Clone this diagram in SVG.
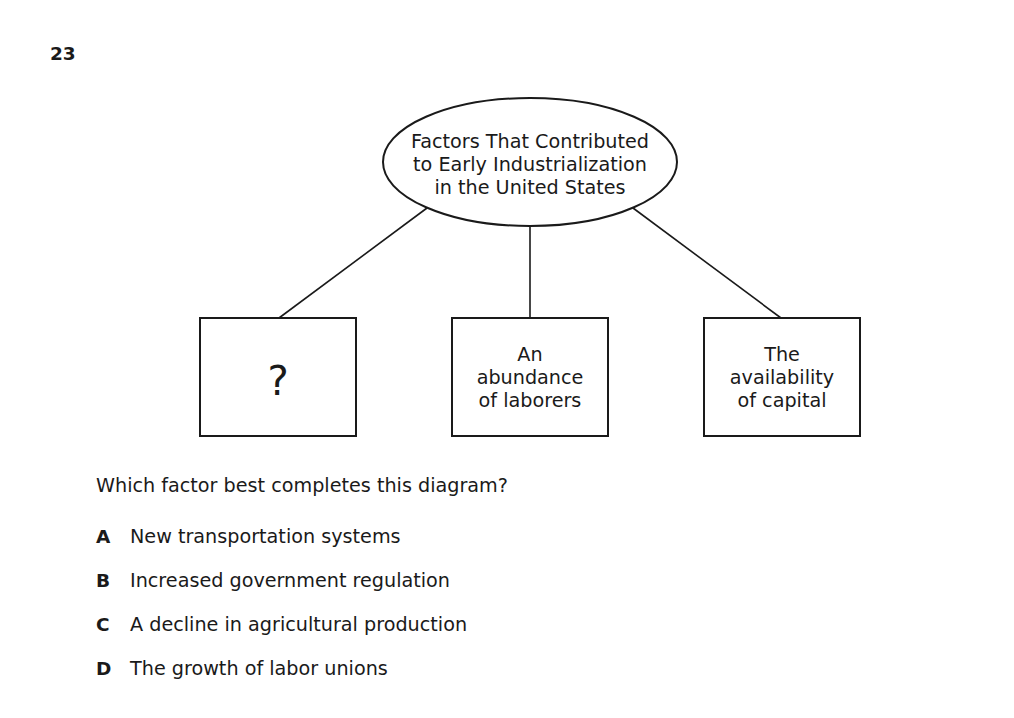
<svg xmlns="http://www.w3.org/2000/svg" width="1014" height="718" viewBox="0 0 1014 718">
<style>
text{font-family:"DejaVu Sans","Verdana",sans-serif;font-size:19.2px;fill:#1a1a1a}
.c{text-anchor:middle}
.b{font-weight:bold;font-size:18.5px}
.shape{fill:#fff;stroke:#1a1a1a;stroke-width:2}
.conn{stroke:#1a1a1a;stroke-width:1.6;fill:none}
</style>
<rect width="1014" height="718" fill="#fff"/>
<text class="b" x="50" y="60">23</text>
<g id="connectors">
<line class="conn" x1="427" y1="208" x2="279" y2="318"/>
<line class="conn" x1="530" y1="226" x2="530" y2="318"/>
<line class="conn" x1="633" y1="208" x2="781" y2="318"/>
</g>
<g id="root">
<ellipse class="shape" cx="530" cy="162" rx="147" ry="64"/>
<text class="c" x="530" y="148">Factors That Contributed</text>
<text class="c" x="530" y="171">to Early Industrialization</text>
<text class="c" x="530" y="194">in the United States</text>
</g>
<g id="box1">
<rect class="shape" x="200" y="318" width="156" height="118"/>
<text class="c" x="278" y="395" style="font-size:40px">?</text>
</g>
<g id="box2">
<rect class="shape" x="452" y="318" width="156" height="118"/>
<text class="c" x="530" y="361">An</text>
<text class="c" x="530" y="384">abundance</text>
<text class="c" x="530" y="407">of laborers</text>
</g>
<g id="box3">
<rect class="shape" x="704" y="318" width="156" height="118"/>
<text class="c" x="782" y="361">The</text>
<text class="c" x="782" y="384">availability</text>
<text class="c" x="782" y="407">of capital</text>
</g>
<text x="96" y="492">Which factor best completes this diagram?</text>
<text class="b" x="96" y="543">A</text><text x="130" y="543">New transportation systems</text>
<text class="b" x="96" y="587">B</text><text x="130" y="587">Increased government regulation</text>
<text class="b" x="96" y="631">C</text><text x="130" y="631">A decline in agricultural production</text>
<text class="b" x="96" y="675">D</text><text x="130" y="675">The growth of labor unions</text>
</svg>
